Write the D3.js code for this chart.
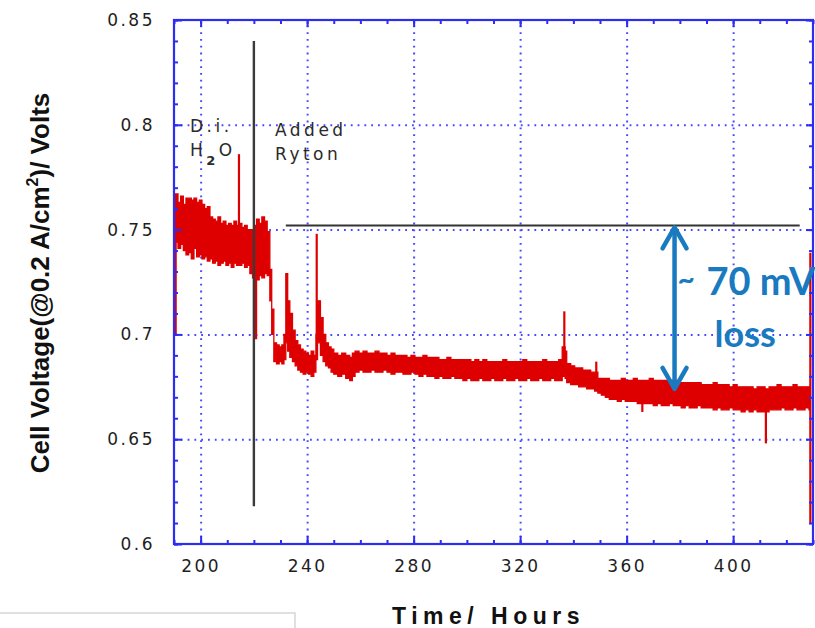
<!DOCTYPE html>
<html>
<head>
<meta charset="utf-8">
<script src="https://cdn.jsdelivr.net/npm/d3@7/dist/d3.min.js"></script>
<style>
  html, body { margin: 0; padding: 0; background: #fff; }
  svg { display: block; }
</style>
</head>
<body>
<svg id="chart" width="815" height="628"></svg>
<script>
// Cell voltage record: for each time stamp, the low and high of the recorded trace
const hours = [
  190.0, 190.6, 191.5, 192.5, 193.5, 194.5, 195.5, 196.5, 197.5, 198.5,
  199.5, 200.5, 201.5, 202.5, 203.5, 204.5, 205.5, 206.5, 207.5, 208.5,
  209.5, 210.5, 211.5, 212.5, 213.5, 214.5, 215.5, 216.5, 217.5, 218.5,
  219.5, 220.3, 221.0, 222.0, 223.0, 224.0, 225.0, 226.0, 226.7, 227.5,
  228.5, 229.5, 230.5, 231.3, 232.0, 232.7, 233.5, 234.5, 235.5, 236.5,
  237.5, 238.5, 239.5, 240.5, 241.5, 242.5, 243.3, 243.9, 245.0, 246.0,
  247.0, 248.0, 249.0, 250.0, 251.5, 253.0, 254.5, 256.0, 257.0, 258.0,
  259.5, 261.0, 262.5, 264.0, 265.5, 267.0, 268.5, 270.0, 271.5, 273.0,
  274.5, 276.0, 277.5, 279.0, 280.5, 282.0, 283.5, 285.0, 286.5, 288.0,
  289.5, 291.0, 292.5, 294.0, 295.5, 297.0, 298.5, 300.0, 301.5, 303.0,
  304.5, 306.0, 307.5, 309.0, 310.5, 312.0, 313.5, 315.0, 316.5, 318.0,
  319.5, 321.0, 322.5, 324.0, 325.5, 327.0, 328.5, 330.0, 331.5, 333.0,
  334.5, 335.8, 336.9, 337.5, 339.0, 340.5, 342.0, 343.5, 345.0, 346.5,
  348.0, 349.2, 350.5, 352.0, 353.5, 355.0, 356.5, 358.0, 359.5, 361.0,
  362.5, 364.0, 365.5, 367.0, 368.5, 370.0, 371.5, 373.0, 374.5, 376.0,
  377.5, 379.0, 380.5, 382.0, 383.5, 385.0, 386.5, 388.0, 389.5, 391.0,
  392.5, 394.0, 395.5, 397.0, 398.5, 400.0, 401.5, 403.0, 404.5, 406.0,
  407.5, 409.0, 410.5, 412.0, 413.5, 415.0, 416.5, 418.0, 419.5, 421.0,
  422.5, 424.0, 425.5, 427.0, 428.5, 429.0
];
const voltLow = [
  0.700, 0.744, 0.741, 0.743, 0.740, 0.738, 0.739, 0.736, 0.741, 0.737,
  0.738, 0.736, 0.737, 0.735, 0.736, 0.734, 0.735, 0.733, 0.734, 0.735,
  0.733, 0.734, 0.732, 0.734, 0.733, 0.733, 0.734, 0.732, 0.733, 0.729,
  0.727, 0.698, 0.726, 0.728, 0.727, 0.729, 0.728, 0.716, 0.700, 0.687,
  0.686, 0.687, 0.686, 0.688, 0.696, 0.692, 0.689, 0.687, 0.685, 0.683,
  0.682, 0.681, 0.682, 0.681, 0.680, 0.682, 0.688, 0.696, 0.690, 0.687,
  0.685, 0.684, 0.682, 0.681, 0.680, 0.681, 0.679, 0.678, 0.680, 0.682,
  0.683, 0.682, 0.682, 0.683, 0.682, 0.682, 0.683, 0.682, 0.681, 0.682,
  0.682, 0.681, 0.681, 0.682, 0.681, 0.680, 0.681, 0.680, 0.680, 0.679,
  0.680, 0.679, 0.679, 0.680, 0.679, 0.679, 0.678, 0.679, 0.678, 0.678,
  0.679, 0.678, 0.678, 0.679, 0.678, 0.678, 0.679, 0.678, 0.678, 0.679,
  0.678, 0.678, 0.679, 0.678, 0.678, 0.679, 0.678, 0.678, 0.679, 0.678,
  0.678, 0.680, 0.679, 0.677, 0.676, 0.676, 0.675, 0.675, 0.674, 0.674,
  0.673, 0.672, 0.671, 0.670, 0.669, 0.669, 0.668, 0.669, 0.668, 0.668,
  0.668, 0.667, 0.667, 0.667, 0.667, 0.666, 0.667, 0.666, 0.666, 0.667,
  0.666, 0.666, 0.665, 0.666, 0.665, 0.665, 0.666, 0.665, 0.665, 0.665,
  0.664, 0.665, 0.664, 0.664, 0.665, 0.664, 0.664, 0.663, 0.664, 0.663,
  0.664, 0.663, 0.663, 0.663, 0.664, 0.664, 0.664, 0.665, 0.664, 0.664,
  0.665, 0.664, 0.664, 0.665, 0.664, 0.665
];
const voltHigh = [
  0.700, 0.767, 0.763, 0.766, 0.762, 0.765, 0.765, 0.764, 0.765, 0.763,
  0.764, 0.762, 0.760, 0.761, 0.756, 0.755, 0.754, 0.756, 0.753, 0.754,
  0.752, 0.753, 0.752, 0.754, 0.752, 0.753, 0.751, 0.752, 0.750, 0.750,
  0.749, 0.752, 0.755, 0.753, 0.756, 0.754, 0.749, 0.731, 0.712, 0.696,
  0.695, 0.694, 0.695, 0.700, 0.729, 0.716, 0.710, 0.702, 0.697, 0.695,
  0.693, 0.692, 0.691, 0.690, 0.692, 0.690, 0.700, 0.716, 0.708, 0.700,
  0.696, 0.694, 0.693, 0.691, 0.690, 0.691, 0.690, 0.689, 0.691, 0.692,
  0.691, 0.692, 0.691, 0.691, 0.692, 0.691, 0.691, 0.690, 0.691, 0.690,
  0.690, 0.690, 0.689, 0.690, 0.689, 0.689, 0.690, 0.689, 0.689, 0.689,
  0.688, 0.688, 0.689, 0.688, 0.688, 0.688, 0.688, 0.688, 0.687, 0.688,
  0.687, 0.688, 0.687, 0.687, 0.687, 0.687, 0.688, 0.687, 0.687, 0.687,
  0.687, 0.688, 0.687, 0.687, 0.687, 0.687, 0.688, 0.687, 0.687, 0.687,
  0.688, 0.694, 0.692, 0.686, 0.685, 0.684, 0.684, 0.683, 0.683, 0.682,
  0.682, 0.679, 0.679, 0.679, 0.678, 0.678, 0.678, 0.679, 0.678, 0.678,
  0.679, 0.678, 0.678, 0.678, 0.679, 0.678, 0.678, 0.678, 0.678, 0.678,
  0.678, 0.677, 0.677, 0.677, 0.677, 0.677, 0.677, 0.676, 0.676, 0.676,
  0.677, 0.676, 0.676, 0.676, 0.675, 0.676, 0.675, 0.675, 0.675, 0.675,
  0.674, 0.675, 0.675, 0.674, 0.675, 0.675, 0.676, 0.675, 0.675, 0.675,
  0.676, 0.675, 0.675, 0.675, 0.675, 0.676
];

// Short transients in the trace: time, start and end voltage
const spikeHours = [190.6, 214.4, 243.6, 336.6, 348.6, 365.9, 412.3, 429.0];
const spikeFrom  = [0.700, 0.750, 0.700, 0.688, 0.680, 0.670, 0.668, 0.610];
const spikeTo    = [0.767, 0.786, 0.748, 0.711, 0.687, 0.663, 0.648, 0.739];

// Axis ticks
const xTicks = [200, 240, 280, 320, 360, 400];
const xMinorTicks = [190, 200, 210, 220, 230, 240, 250, 260, 270, 280, 290, 300,
  310, 320, 330, 340, 350, 360, 370, 380, 390, 400, 410, 420, 430];
const yTicks = [0.6, 0.65, 0.7, 0.75, 0.8, 0.85];
const yMinorTicks = [0.60, 0.61, 0.62, 0.63, 0.64, 0.65, 0.66, 0.67, 0.68, 0.69,
  0.70, 0.71, 0.72, 0.73, 0.74, 0.75, 0.76, 0.77, 0.78, 0.79, 0.80, 0.81, 0.82,
  0.83, 0.84, 0.85];

// Events and the measured loss
const rytonHour = 220;
const rytonLine = [0.618, 0.840];
const baselineVolt = 0.752;
const baselineSpan = [232, 425];
const lossHour = 378;
const lossRange = [0.752, 0.674];

const svg = d3.select("#chart");
const x = d3.scaleLinear().domain([190, 430]).range([174, 813]);
const y = d3.scaleLinear().domain([0.6, 0.85]).range([544, 20]);
const axisBlue = "#2d2df2";
const gridBlue = "#4848ff";
const red = "#de0000";
const annBlue = "#1a7abf";
const plotH = y(0.6) - y(0.85);
const plotW = x(430) - x(190);

// dotted grid
const gx = svg.append("g").attr("transform", `translate(0,${y(0.6)})`)
  .call(d3.axisBottom(x).tickValues(xTicks).tickSize(-plotH).tickFormat(""));
const gy = svg.append("g").attr("transform", `translate(${x(190)},0)`)
  .call(d3.axisLeft(y).tickValues(yTicks.slice(1, -1)).tickSize(-plotW).tickFormat(""));
[gx, gy].forEach(g => {
  g.select(".domain").remove();
  g.selectAll(".tick line").attr("stroke", gridBlue).attr("stroke-width", 2)
    .attr("stroke-dasharray", "1.8,5");
});

// voltage trace
const rows = hours.map((h, i) => ({ h, lo: voltLow[i], hi: voltHigh[i] }));
svg.append("path").datum(rows)
  .attr("d", d3.area().x(d => x(d.h)).y0(d => y(d.lo)).y1(d => y(d.hi)).curve(d3.curveStepAfter))
  .attr("fill", red).attr("stroke", red).attr("stroke-width", 1.3);
svg.append("g").selectAll("line").data(spikeHours).join("line")
  .attr("x1", d => x(d)).attr("x2", d => x(d))
  .attr("y1", (d, i) => y(spikeFrom[i])).attr("y2", (d, i) => y(spikeTo[i]))
  .attr("stroke", red).attr("stroke-width", 2.2);

// frame and ticks on all four sides
function styleTicks(g) {
  g.select(".domain").remove();
  g.selectAll(".tick line").attr("stroke", axisBlue).attr("stroke-width", 2);
}
const tickFont = "'DejaVu Sans', Verdana, sans-serif";
svg.append("g").attr("transform", `translate(0,${y(0.6)})`)
  .call(d3.axisBottom(x).tickValues(xMinorTicks).tickSize(-4).tickFormat("")).call(styleTicks);
svg.append("g").attr("transform", `translate(0,${y(0.85)})`)
  .call(d3.axisTop(x).tickValues(xMinorTicks).tickSize(-4).tickFormat("")).call(styleTicks);
svg.append("g").attr("transform", `translate(${x(190)},0)`)
  .call(d3.axisLeft(y).tickValues(yMinorTicks).tickSize(-4).tickFormat("")).call(styleTicks);
svg.append("g").attr("transform", `translate(${x(430)},0)`)
  .call(d3.axisRight(y).tickValues(yMinorTicks).tickSize(-4).tickFormat("")).call(styleTicks);

const xAxis = svg.append("g").attr("transform", `translate(0,${y(0.6)})`)
  .call(d3.axisBottom(x).tickValues(xTicks).tickSize(-8).tickPadding(16).tickFormat(d3.format("d")))
  .call(styleTicks);
svg.append("g").attr("transform", `translate(0,${y(0.85)})`)
  .call(d3.axisTop(x).tickValues(xTicks).tickSize(-7).tickFormat("")).call(styleTicks);
const yAxis = svg.append("g").attr("transform", `translate(${x(190)},0)`)
  .call(d3.axisLeft(y).tickValues(yTicks).tickSize(-8).tickPadding(19)
    .tickFormat(d => String(+d.toFixed(2))))
  .call(styleTicks);
svg.append("g").attr("transform", `translate(${x(430)},0)`)
  .call(d3.axisRight(y).tickValues(yTicks).tickSize(-7).tickFormat("")).call(styleTicks);
[xAxis, yAxis].forEach(g => g.selectAll("text")
  .attr("font-family", tickFont).attr("font-size", 17).attr("fill", "#1e1e1e")
  .style("letter-spacing", "2.5px"));

svg.append("rect")
  .attr("x", x(190)).attr("y", y(0.85)).attr("width", plotW).attr("height", plotH)
  .attr("fill", "none").attr("stroke", axisBlue).attr("stroke-width", 2.2);

// event markers
svg.append("line")
  .attr("x1", x(rytonHour)).attr("x2", x(rytonHour))
  .attr("y1", y(rytonLine[0])).attr("y2", y(rytonLine[1]))
  .attr("stroke", "#3a3a3a").attr("stroke-width", 2.4);
svg.append("line")
  .attr("x1", x(baselineSpan[0])).attr("x2", x(baselineSpan[1]))
  .attr("y1", y(baselineVolt)).attr("y2", y(baselineVolt))
  .attr("stroke", "#333").attr("stroke-width", 2);

const annFont = "'DejaVu Sans', Verdana, sans-serif";
const ann = svg.append("g").attr("font-family", annFont).attr("font-size", 17)
  .attr("fill", "#2a2a2a").style("letter-spacing", "3.5px");
ann.append("text").attr("x", 190).attr("y", 132).text("D.i.");
const h2o = ann.append("text").attr("x", 190).attr("y", 156);
h2o.append("tspan").text("H");
h2o.append("tspan").attr("dy", 9).attr("font-size", 13).attr("font-weight", "bold").text("2");
h2o.append("tspan").attr("dy", -9).text("O");
ann.append("text").attr("x", 275).attr("y", 136).text("Added");
ann.append("text").attr("x", 275).attr("y", 160).text("Ryton");

// loss arrow
const ax = x(lossHour), yTop = y(lossRange[0]) + 2, yBot = y(lossRange[1]);
const arrow = svg.append("g").attr("stroke", annBlue).attr("stroke-width", 4.5)
  .attr("fill", "none").attr("stroke-linecap", "round").attr("stroke-linejoin", "round");
arrow.append("line").attr("x1", ax).attr("x2", ax).attr("y1", yTop + 2).attr("y2", yBot - 2);
arrow.append("polyline").attr("points", `${ax - 12},${yTop + 21} ${ax},${yTop} ${ax + 12},${yTop + 21}`);
arrow.append("polyline").attr("points", `${ax - 12},${yBot - 21} ${ax},${yBot} ${ax + 12},${yBot - 21}`);

const lossText = svg.append("g").attr("font-family", "Lato, 'Liberation Sans', Arial, sans-serif")
  .attr("font-weight", "bold").attr("fill", annBlue);
lossText.append("text").attr("x", ax + 3).attr("y", 290).attr("font-size", 30).text("~");
lossText.append("text").attr("x", ax + 32).attr("y", 295).attr("font-size", 38).text("70 mV");
lossText.append("text").attr("x", ax + 40).attr("y", 347).attr("font-size", 36).text("loss");

// axis titles
const yTitle = svg.append("text")
  .attr("transform", "translate(49,283) rotate(-90)")
  .attr("text-anchor", "middle")
  .attr("font-family", "'Liberation Sans', Arial, sans-serif")
  .attr("font-weight", "bold").attr("font-size", 26).attr("fill", "#111");
yTitle.append("tspan").text("Cell Voltage(@0.2 A/cm");
yTitle.append("tspan").attr("dy", -11).attr("font-size", 16).text("2");
yTitle.append("tspan").attr("dy", 11).text(")/ Volts");

svg.append("text").attr("x", 392).attr("y", 624)
  .attr("font-family", "'Liberation Sans', Arial, sans-serif")
  .attr("font-weight", "bold").attr("font-size", 23).attr("fill", "#111")
  .style("letter-spacing", "5.5px")
  .text("Time/ Hours");

// caption box at lower left
svg.append("rect").attr("x", -2).attr("y", 613).attr("width", 297).attr("height", 30)
  .attr("fill", "#fff").attr("stroke", "#d6d6d6").attr("stroke-width", 1.5);
</script>
</body>
</html>
